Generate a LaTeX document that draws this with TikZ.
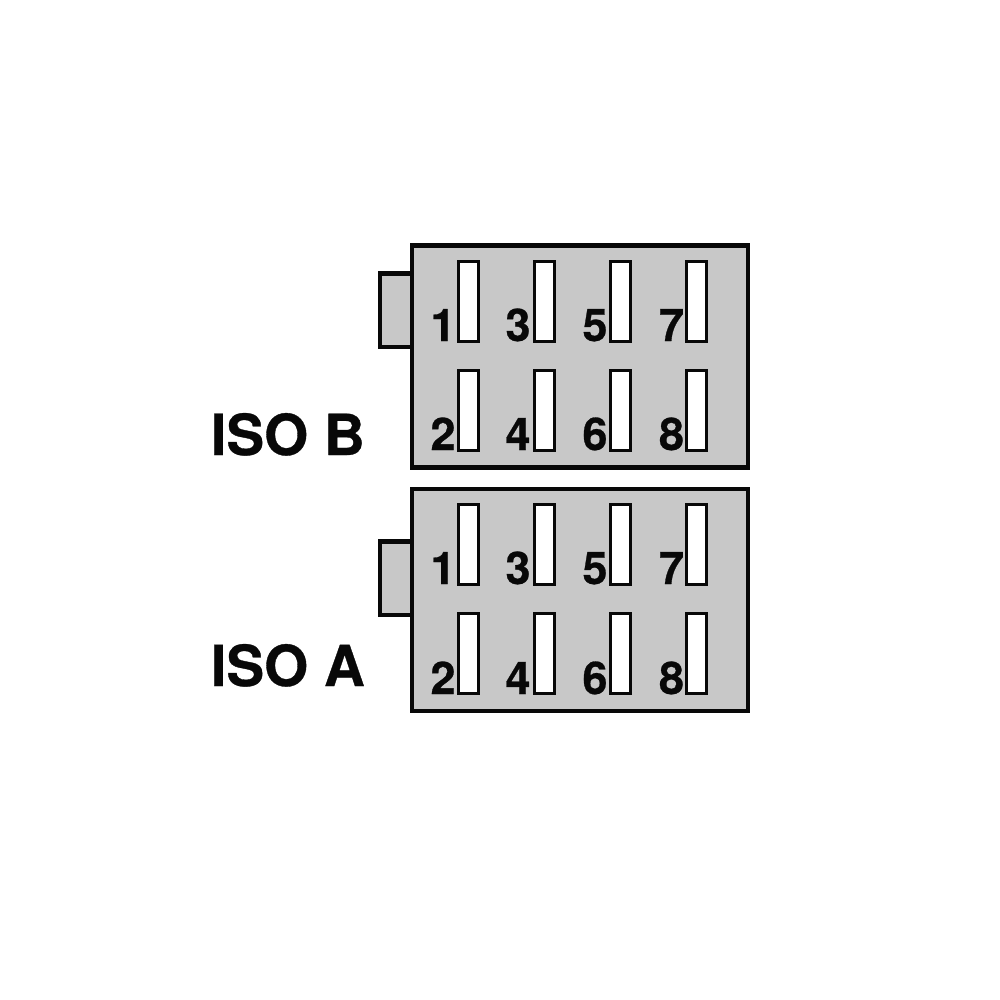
\documentclass[tikz,border=0pt]{standalone}
\usepackage{fontspec}
\setmainfont{TeX Gyre Heros}[BoldFeatures={FakeBold=0.6}]
\definecolor{bodygray}{HTML}{C8C8C8}
\definecolor{inkblack}{HTML}{080808}
\tikzset{
  housing/.style={draw=inkblack,line width=4.4pt,fill=bodygray,miter limit=10},
  slot/.style={draw=inkblack,line width=3.2pt,fill=white},
  pinnum/.style={font=\bfseries\fontsize{45}{45}\selectfont,text=inkblack,inner sep=0pt,anchor=base},
  title/.style={font=\bfseries\fontsize{56.6}{57}\selectfont,text=inkblack,inner sep=0pt,anchor=base west}
}
\begin{document}
\begin{tikzpicture}[x=1pt,y=-1pt]
\useasboundingbox (0,0) rectangle (1000,1000);
\fill[white] (0,0) rectangle (1000,1000);
% connector ISO B
\draw[housing] (411,273.5) -- (380,273.5) -- (380,347) -- (411,347);
\draw[housing] (411.7,245.3) rectangle (748.2,467.5);
% connector ISO A
\draw[housing] (411,541.5) -- (380,541.5) -- (380,615) -- (411,615);
\draw[housing] (411.7,488.8) rectangle (748.2,711);
\foreach \sx in {458.7,534.7,610.7,686.7}{
  \foreach \sy in {261.5,370.5,504.5,613.5}{
    \draw[slot] (\sx,\sy) rectangle ++(19.5,80);
  }
}
\foreach \nx/\top/\bot/\idx in {443/1/2/a,518/3/4/b,595/5/6/c,671.5/7/8/d}{
  \node[pinnum] (bt\idx) at (\nx,341) {\top};
  \node[pinnum] (bb\idx) at (\nx,450) {\bot};
  \node[pinnum] (at\idx) at (\nx,584) {\top};
  \node[pinnum] (ab\idx) at (\nx,694) {\bot};
}
\node[title] (isob) at (210.5,455) {ISO B};
\node[title] (isoa) at (210.5,686) {ISO A};
\end{tikzpicture}
\end{document}
